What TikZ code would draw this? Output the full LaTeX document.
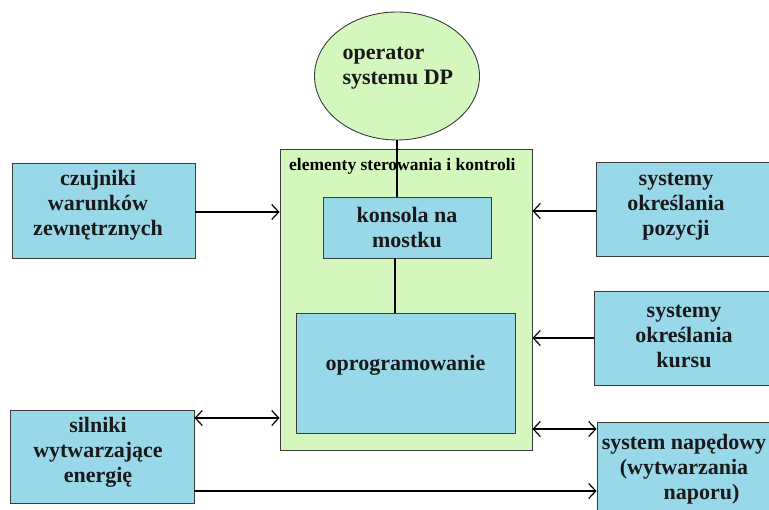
\documentclass[tikz,border=0pt]{standalone}
\usepackage{fontspec}
\setmainfont{Liberation Serif}
\usetikzlibrary{arrows.meta,shapes.geometric}
\definecolor{lgreen}{RGB}{212,247,190}
\definecolor{lblue}{RGB}{153,216,233}
\definecolor{bord}{RGB}{60,60,60}
\tikzset{
  bigtxt/.style={font=\bfseries\fontsize{22}{25}\selectfont, text=black!90},
  bluebox/.style={draw=bord, line width=0.9pt, fill=lblue, rectangle, inner sep=0pt, align=center, bigtxt},
  greenbox/.style={draw=bord, line width=0.9pt, fill=lgreen, rectangle, inner sep=0pt},
  conn/.style={line width=1.4pt, black},
  thickconn/.style={line width=2.6pt, black},
  tip/.style={-{Straight Barb[length=7pt,width=15pt,line width=1.2pt]}},
  dtip/.style={{Straight Barb[length=7pt,width=15pt,line width=1.2pt]}-{Straight Barb[length=7pt,width=15pt,line width=1.2pt]}}
}
\begin{document}
\begin{tikzpicture}[x=1pt,y=-1pt]
\clip (0,0) rectangle (769,510);
\fill[white] (0,0) rectangle (769,510);
% operator ellipse
\node[ellipse, draw=bord, line width=0.9pt, fill=lgreen, minimum width=165pt, minimum height=128pt, inner sep=0pt] (op) at (397,76) {};
\node[bigtxt, align=left, anchor=west] (optxt) at (339,68) {operator\\systemu DP};
% green control box
\node[greenbox, minimum width=252pt, minimum height=301pt] (ctrl) at (406,299.5) {};
\node[font=\bfseries\fontsize{17.5}{20}\selectfont, anchor=west, inner sep=0pt] (ctitle) at (289,166) {elementy sterowania i kontroli};
\node[bluebox, minimum width=168pt, minimum height=61pt] (kons) at (407,227.5) {konsola na\\mostku};
\node[bluebox, minimum width=219pt, minimum height=120pt] (prog) at (405.5,373) {};
\node[bigtxt] (progtxt) at (405.5,365) {oprogramowanie};
% outer boxes
\node[bluebox, minimum width=183pt, minimum height=95pt] (czuj) at (103.5,210.5) {};
\node[bigtxt, align=center] (czujtxt) at (98,205) {czujniki\\warunków\\zewnętrznych};
\node[bluebox, minimum width=179pt, minimum height=94pt] (poz) at (685.5,209) {};
\node[bigtxt, align=center] (poztxt) at (676,207) {systemy\\określania\\pozycji};
\node[bluebox, minimum width=181pt, minimum height=94pt] (kurs) at (684.5,338) {};
\node[bigtxt, align=center] (kurstxt) at (684,336) {systemy\\określania\\kursu};
\node[bluebox, minimum width=184pt, minimum height=93pt] (siln) at (102,456.5) {};
\node[bigtxt, align=center] (silntxt) at (98,452) {silniki\\wytwarzające\\energię};
\node[bluebox, minimum width=178pt, minimum height=98pt] (nap) at (686,471) {};
\node[bigtxt, align=center] (naptxt) at (684,469) {system napędowy\\(wytwarzania\\\hspace*{1.6em}naporu)};
% connectors
\draw[thickconn] (op.south) -- (op.south |- kons.north);
\draw[thickconn] ([xshift=-12pt]kons.south) -- ([xshift=-10.5pt]prog.north);
\draw[conn,tip] (czuj.east |- 0,212) -- (ctrl.west |- 0,212);
\draw[conn,tip] (poz.west |- 0,211) -- (ctrl.east |- 0,211);
\draw[conn,tip] (kurs.west |- 0,338) -- (ctrl.east |- 0,338);
\draw[conn,dtip] (siln.east |- 0,418) -- (ctrl.west |- 0,418);
\draw[conn,dtip] (ctrl.east |- 0,429) -- (nap.west |- 0,429);
\draw[conn,tip] (siln.east |- 0,491) -- (nap.west |- 0,491);
\end{tikzpicture}
\end{document}
